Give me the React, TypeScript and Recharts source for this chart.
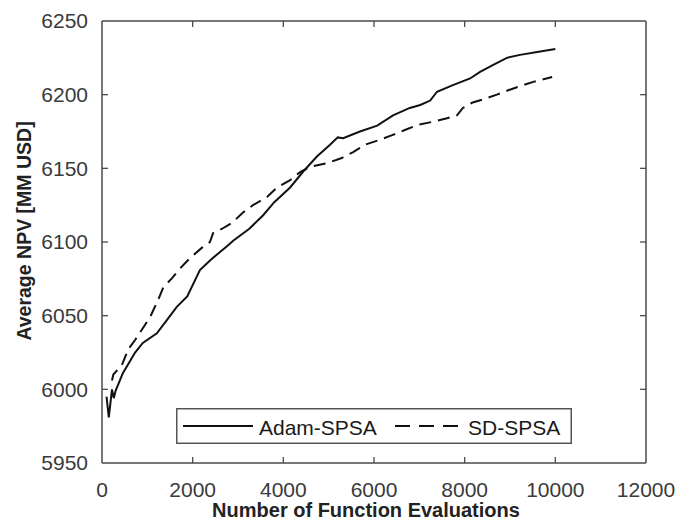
import React from 'react';
import { LineChart, Line, XAxis, YAxis, Legend, Label, ReferenceLine } from 'recharts';

const adamEvals = [100, 150, 220, 260, 300, 460, 730, 900, 1210, 1430, 1650, 1880, 2160, 2400, 2750, 2900, 3250, 3550, 3800, 4150, 4430, 4740, 5030, 5200, 5320, 5690, 6070, 6420, 6790, 7020, 7240, 7390, 7740, 8120, 8340, 8620, 8930, 9220, 9600, 10000];
const adamNpv = [5995, 5981, 6000, 5994, 5999, 6011, 6025, 6031.5, 6038, 6047, 6056, 6063, 6081, 6088, 6097, 6101, 6109, 6118, 6127, 6137, 6147.5, 6158, 6166, 6171, 6170.5, 6175, 6179, 6186, 6191, 6193, 6196, 6202, 6206.5, 6211, 6215.5, 6220, 6225, 6227, 6229, 6231];

const sdEvals = [220, 250, 440, 575, 730, 900, 1060, 1235, 1350, 1545, 1720, 1940, 2200, 2380, 2450, 2650, 2870, 3110, 3330, 3640, 3860, 4150, 4370, 4590, 4960, 5290, 5540, 5800, 6090, 6400, 6680, 6970, 7280, 7610, 7830, 7960, 8160, 8380, 8710, 8960, 9290, 9550, 9930];
const sdNpv = [6006, 6010, 6016.5, 6027, 6033.5, 6041.5, 6049, 6060.5, 6069, 6075.5, 6082, 6089, 6096, 6100, 6106, 6109, 6113, 6120, 6125, 6130.5, 6137, 6142, 6147.5, 6151, 6153.5, 6157, 6161, 6166, 6169, 6172.5, 6176, 6179.5, 6181.5, 6184, 6186, 6191, 6194.5, 6196.5, 6200, 6203, 6206.5, 6209, 6212];

const xTicks = [0, 2000, 4000, 6000, 8000, 10000, 12000];
const yTicks = [5950, 6000, 6050, 6100, 6150, 6200, 6250];
const seriesNames = ['Adam-SPSA', 'SD-SPSA'];

const adamData = adamEvals.map((x, i) => ({ x, y: adamNpv[i] }));
const sdData = sdEvals.map((x, i) => ({ x, y: sdNpv[i] }));

const X_MIN = xTicks[0];
const X_MAX = xTicks[xTicks.length - 1];
const Y_MIN = yTicks[0];
const Y_MAX = yTicks[yTicks.length - 1];
// inward tick length expressed in axis units (about 6 px)
const TICK_DX = 130;
const TICK_DY = 4;

const FONT = '"Liberation Sans", Arial, Helvetica, sans-serif';
const AXIS = '#4a4a4a';
const axisLineStyle = { stroke: AXIS, strokeWidth: 1.5 };

const BottomTick = (props: any) => {
  const { x, y, payload } = props;
  return (
    <text x={x} y={y + 34} textAnchor="middle" fontFamily={FONT} fontSize={21} fill="#3a3a3a">
      {payload.value}
    </text>
  );
};

const LeftTick = (props: any) => {
  const { x, y, payload } = props;
  return (
    <text x={x} y={y} dy="0.355em" textAnchor="end" fontFamily={FONT} fontSize={21} fill="#3a3a3a">
      {payload.value}
    </text>
  );
};

const LegendBox = () => (
  <svg width={396} height={36} style={{ display: 'block' }}>
    <rect x={0.75} y={0.75} width={394.5} height={34.5} fill="#fff" stroke="#555" strokeWidth={1.5} />
    <line x1={7} y1={18} x2={77} y2={18} stroke="#111" strokeWidth={2} />
    <text x={83} y={27} fontFamily={FONT} fontSize={21} fill="#1a1a1a">{seriesNames[0]}</text>
    <line x1={219} y1={18} x2={289} y2={18} stroke="#111" strokeWidth={2} strokeDasharray="15 9" />
    <text x={292} y={27} fontFamily={FONT} fontSize={21} fill="#1a1a1a">{seriesNames[1]}</text>
  </svg>
);

const YLabel = () => (
  <text x={23} y={223} transform="rotate(-90 23 223)" textAnchor="middle" fontFamily={FONT} fontSize={19.5} fontWeight="bold" fill="#222">
    Average NPV [MM USD]
  </text>
);

const XLabel = () => (
  <text x={358} y={509} textAnchor="middle" fontFamily={FONT} fontSize={20} fontWeight="bold" fill="#222">
    Number of Function Evaluations
  </text>
);

const innerX = xTicks.slice(1, -1);
const innerY = yTicks.slice(1, -1);

export default function App() {
  return (
    <div style={{ width: 682, height: 513 }}>
      <LineChart width={682} height={513} margin={{ top: 12, right: 43, left: 0, bottom: 0 }}>
        <XAxis
          xAxisId="bottom"
          dataKey="x"
          type="number"
          domain={[X_MIN, X_MAX]}
          ticks={xTicks}
          interval={0}
          height={58}
          tickSize={0}
          tickMargin={0}
          axisLine={axisLineStyle}
          tickLine={false}
          tick={<BottomTick />}
          allowDataOverflow
          label={<Label content={<XLabel />} />}
        />
        <XAxis
          xAxisId="top"
          orientation="top"
          dataKey="x"
          type="number"
          domain={[X_MIN, X_MAX]}
          ticks={xTicks}
          interval={0}
          height={1}
          tickSize={0}
          axisLine={axisLineStyle}
          tickLine={false}
          tick={false}
          allowDataOverflow
        />
        <YAxis
          yAxisId="left"
          type="number"
          domain={[Y_MIN, Y_MAX]}
          ticks={yTicks}
          interval={0}
          width={94}
          tickSize={0}
          tickMargin={14}
          axisLine={axisLineStyle}
          tickLine={false}
          tick={<LeftTick />}
          allowDataOverflow
          label={<Label content={<YLabel />} />}
        />
        <YAxis
          yAxisId="right"
          orientation="right"
          type="number"
          domain={[Y_MIN, Y_MAX]}
          ticks={yTicks}
          interval={0}
          width={1}
          tickSize={0}
          axisLine={axisLineStyle}
          tickLine={false}
          tick={false}
          allowDataOverflow
        />
        {innerX.map((t) => (
          <ReferenceLine
            key={`b${t}`}
            xAxisId="bottom"
            yAxisId="left"
            segment={[{ x: t, y: Y_MIN }, { x: t, y: Y_MIN + TICK_DY }]}
            stroke={AXIS}
            strokeWidth={1.3}
          />
        ))}
        {innerX.map((t) => (
          <ReferenceLine
            key={`t${t}`}
            xAxisId="bottom"
            yAxisId="left"
            segment={[{ x: t, y: Y_MAX }, { x: t, y: Y_MAX - TICK_DY }]}
            stroke={AXIS}
            strokeWidth={1.3}
          />
        ))}
        {innerY.map((t) => (
          <ReferenceLine
            key={`l${t}`}
            xAxisId="bottom"
            yAxisId="left"
            segment={[{ x: X_MIN, y: t }, { x: X_MIN + TICK_DX, y: t }]}
            stroke={AXIS}
            strokeWidth={1.3}
          />
        ))}
        {innerY.map((t) => (
          <ReferenceLine
            key={`r${t}`}
            xAxisId="bottom"
            yAxisId="left"
            segment={[{ x: X_MAX, y: t }, { x: X_MAX - TICK_DX, y: t }]}
            stroke={AXIS}
            strokeWidth={1.3}
          />
        ))}
        <Line
          xAxisId="bottom"
          yAxisId="left"
          data={adamData}
          dataKey="y"
          name={seriesNames[0]}
          type="linear"
          stroke="#111"
          strokeWidth={2}
          dot={false}
          isAnimationActive={false}
        />
        <Line
          xAxisId="bottom"
          yAxisId="left"
          data={sdData}
          dataKey="y"
          name={seriesNames[1]}
          type="linear"
          stroke="#111"
          strokeWidth={2}
          strokeDasharray="12 7"
          dot={false}
          isAnimationActive={false}
        />
        <Legend
          layout="horizontal"
          verticalAlign="middle"
          align="center"
          wrapperStyle={{ position: 'absolute', left: 168, top: 400, width: 396, height: 36 }}
          content={() => <LegendBox />}
        />
      </LineChart>
    </div>
  );
}
